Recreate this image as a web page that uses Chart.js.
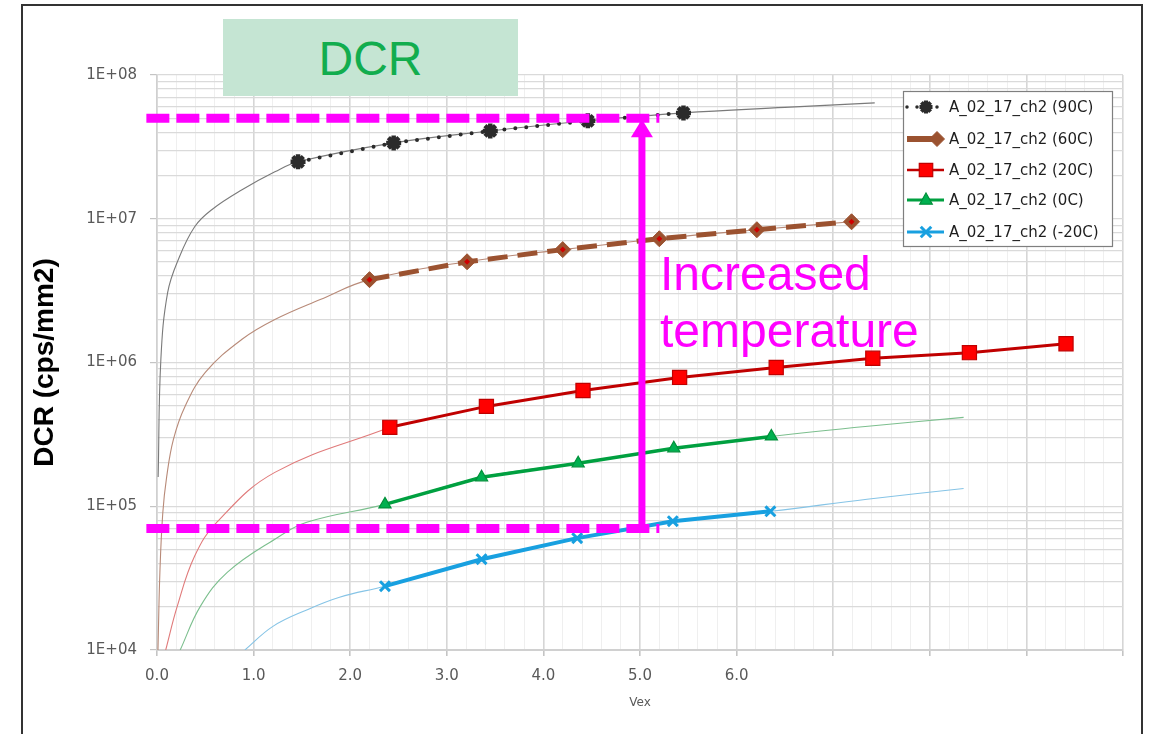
<!DOCTYPE html>
<html>
<head>
<meta charset="utf-8">
<script src="https://cdn.jsdelivr.net/npm/chart.js@4/dist/chart.umd.min.js"></script>
<style>
html,body{margin:0;padding:0;background:#fff;}
#wrap{position:relative;width:1151px;height:734px;overflow:hidden;background:#fff;}
#c{position:absolute;left:0;top:0;}
#frame{position:absolute;left:21px;top:4px;width:1122px;height:760px;border:2px solid #333;border-bottom:none;box-sizing:border-box;pointer-events:none;}
#dcr{position:absolute;left:223px;top:19px;width:295px;height:74px;padding-top:3px;background:#c5e5d3;color:#12ad4e;font:48px "Liberation Sans",Arial,sans-serif;text-align:center;line-height:74px;}
#inc{position:absolute;left:660px;top:245px;color:#ff00ff;font:48px "Liberation Sans",Arial,sans-serif;line-height:57px;white-space:nowrap;}
</style>
</head>
<body>
<div id="wrap">
<canvas id="c" width="1151" height="734"></canvas>
<div id="dcr">DCR</div>
<div id="inc">Increased<br>temperature</div>
<div id="frame"></div>
</div>
<script>
// ---------------- data ----------------
const seriesNames = ['A_02_17_ch2 (90C)','A_02_17_ch2 (60C)','A_02_17_ch2 (20C)','A_02_17_ch2 (0C)','A_02_17_ch2 (-20C)'];

const vex90  = [1.46, 2.45, 3.45, 4.46, 5.45];
const dcr90  = [2.49e7, 3.37e7, 4.08e7, 4.80e7, 5.45e7];

const vex60  = [2.20, 3.21, 4.20, 5.20, 6.21, 7.19];
const dcr60  = [3.77e6, 5.02e6, 6.10e6, 7.26e6, 8.39e6, 9.53e6];

const vex20  = [2.41, 3.41, 4.41, 5.41, 6.41, 7.41, 8.41, 9.41];
const dcr20  = [3.54e5, 4.95e5, 6.39e5, 7.87e5, 9.23e5, 1.07e6, 1.17e6, 1.35e6];

const vex0   = [2.36, 3.36, 4.36, 5.35, 6.36];
const dcr0   = [1.03e5, 1.59e5, 1.99e5, 2.53e5, 3.06e5];

const vexM20 = [2.36, 3.36, 4.35, 5.34, 6.35];
const dcrM20 = [2.78e4, 4.28e4, 6.00e4, 7.87e4, 9.22e4];

// thin fitted curves
const fitVex90  = [0.012, 0.04, 0.11, 0.22, 0.39, 0.57, 0.88, 1.22, 1.46, 2.45, 3.45, 4.46, 5.45, 6.50, 7.43];
const fitDcr90  = [1.6e5, 1.05e6, 3.06e6, 5.19e6, 8.8e6, 1.16e7, 1.59e7, 2.12e7, 2.49e7, 3.37e7, 4.08e7, 4.80e7, 5.45e7, 5.95e7, 6.4e7];
const fitVex60  = [0.01, 0.03, 0.06, 0.10, 0.17, 0.29, 0.50, 0.88, 1.22, 1.69, 2.20, 3.21, 4.20, 5.20, 6.21, 7.19];
const fitDcr60  = [1e4, 3.48e4, 9.0e4, 1.6e5, 2.92e5, 4.95e5, 8.53e5, 1.45e6, 1.99e6, 2.74e6, 3.77e6, 5.02e6, 6.10e6, 7.26e6, 8.39e6, 9.53e6];
const fitVex20  = [0.09, 0.21, 0.39, 0.62, 1.22, 2.41];
const fitDcr20  = [1e4, 2.02e4, 4.5e4, 7.74e4, 1.72e5, 3.54e5];
const fitVex0   = [0.24, 0.45, 0.73, 1.22, 1.55, 2.36, 3.36, 4.36, 5.35, 6.36, 7.36, 8.35];
const fitDcr0   = [1e4, 2.02e4, 3.48e4, 5.9e4, 7.74e4, 1.03e5, 1.59e5, 1.99e5, 2.53e5, 3.06e5, 3.6e5, 4.15e5];
const fitVexM20 = [0.91, 1.20, 1.55, 1.89, 2.36, 3.36, 4.35, 5.34, 6.35, 7.35, 8.35];
const fitDcrM20 = [1e4, 1.46e4, 1.90e4, 2.33e4, 2.78e4, 4.28e4, 6.00e4, 7.87e4, 9.22e4, 1.12e5, 1.33e5];

// axes
const xTickLabels = ['0.0','1.0','2.0','3.0','4.0','5.0','6.0'];
const yDecades    = [1e4, 1e5, 1e6, 1e7, 1e8];
const yTickLabels = ['1E+04','1E+05','1E+06','1E+07','1E+08'];

// annotation values (data units)
const refLevels = [5e7, 7e4];
const refStartVex = -0.11, refEndVex = 5.2, arrowVex = 5.02;

// ---------------- helpers ----------------
const pts = (xs, ys) => xs.map((x, i) => ({x: x, y: ys[i]}));
const isInt = v => Math.abs(v - Math.round(v)) < 1e-6;
const isDecade = v => { const l = Math.log10(v); return Math.abs(l - Math.round(l)) < 1e-9; };
const yGridValues = [];
for (let i = 0; i < yDecades.length - 1; i++) for (let m = 1; m <= 9; m++) yGridValues.push(m * yDecades[i]);
yGridValues.push(yDecades[yDecades.length - 1]);
const xGridValues = [];
for (let i = 0; i <= 50; i++) xGridValues.push(i / 5);

const C90 = '#2b2b2b', C60 = '#9b5230', C20 = '#c00000', C20f = '#ff0000', C0 = '#00a040', CM20 = '#18a0e0';
const MAG = '#ff00ff';

function trend(xs, ys, color) {
  return {data: pts(xs, ys), borderColor: color, borderWidth: 1.1, pointRadius: 0,
          tension: 0.4, cubicInterpolationMode: 'default', order: 20, fill: false};
}

// ---------------- legend / marker drawing ----------------
function marker(ctx, style, x, y, r, fill, stroke, lw) {
  ctx.save();
  ctx.fillStyle = fill; ctx.strokeStyle = stroke; ctx.lineWidth = lw; ctx.setLineDash([]);
  ctx.beginPath();
  if (style === 'rect') { const s = r * Math.SQRT1_2; ctx.rect(x - s, y - s, 2 * s, 2 * s); ctx.fill(); ctx.stroke(); }
  else if (style === 'rectRot') { ctx.moveTo(x, y - r); ctx.lineTo(x + r, y); ctx.lineTo(x, y + r); ctx.lineTo(x - r, y); ctx.closePath(); ctx.fill(); ctx.stroke(); }
  else if (style === 'triangle') { ctx.moveTo(x, y - r); ctx.lineTo(x + r * 0.9, y + r * 0.6); ctx.lineTo(x - r * 0.9, y + r * 0.6); ctx.closePath(); ctx.fill(); ctx.stroke(); }
  else if (style === 'crossRot') { const s = r * 0.75; ctx.moveTo(x - s, y - s); ctx.lineTo(x + s, y + s); ctx.moveTo(x + s, y - s); ctx.lineTo(x - s, y + s); ctx.stroke(); }
  else if (style === 'star') { for (let k = 0; k < 4; k++) { const a = k * Math.PI / 4; ctx.moveTo(x - r * Math.cos(a), y - r * Math.sin(a)); ctx.lineTo(x + r * Math.cos(a), y + r * Math.sin(a)); } ctx.stroke(); }
  ctx.restore();
}

const legendPlugin = {
  id: 'customLegend',
  afterDraw(chart) {
    const ctx = chart.ctx;
    const bx = 903, by = 91, bw = 209, bh = 155;
    ctx.save();
    ctx.fillStyle = '#fff'; ctx.fillRect(bx, by, bw, bh);
    ctx.strokeStyle = '#7f7f7f'; ctx.lineWidth = 1.2; ctx.strokeRect(bx + 0.5, by + 0.5, bw, bh);
    const rows = [107, 139, 170, 200, 232];
    const x0 = 907, x1 = 944, xm = 926;
    ctx.strokeStyle = C90; ctx.lineWidth = 3.5; ctx.lineCap = 'round'; ctx.setLineDash([0, 10]);
    ctx.beginPath(); ctx.moveTo(x0, rows[0]); ctx.lineTo(x1, rows[0]); ctx.stroke();
    ctx.setLineDash([]); ctx.lineCap = 'butt';
    marker(ctx, 'star', xm, rows[0], 6.5, C90, C90, 4);
    ctx.strokeStyle = C60; ctx.lineWidth = 6;
    ctx.beginPath(); ctx.moveTo(x0, rows[1]); ctx.lineTo(x1 - 8, rows[1]); ctx.stroke();
    marker(ctx, 'rectRot', x1 - 7, rows[1], 7.5, C60, C60, 1);
    ctx.strokeStyle = C20; ctx.lineWidth = 2.5;
    ctx.beginPath(); ctx.moveTo(x0, rows[2]); ctx.lineTo(x1, rows[2]); ctx.stroke();
    marker(ctx, 'rect', xm, rows[2], 9.5, C20f, C20, 1.2);
    ctx.strokeStyle = C0; ctx.lineWidth = 3;
    ctx.beginPath(); ctx.moveTo(x0, rows[3]); ctx.lineTo(x1, rows[3]); ctx.stroke();
    marker(ctx, 'triangle', xm, rows[3], 7, '#00b050', '#00903a', 1.2);
    ctx.strokeStyle = CM20; ctx.lineWidth = 3;
    ctx.beginPath(); ctx.moveTo(x0, rows[4]); ctx.lineTo(x1, rows[4]); ctx.stroke();
    marker(ctx, 'crossRot', xm, rows[4], 7, CM20, CM20, 3);
    ctx.fillStyle = '#1e1e1e'; ctx.font = '15px "DejaVu Sans"'; ctx.textBaseline = 'middle'; ctx.textAlign = 'left';
    seriesNames.forEach((n, i) => ctx.fillText(n, 949, rows[i] + 1));
    ctx.restore();
  }
};

const annotPlugin = {
  id: 'annot',
  afterDatasetsDraw(chart) {
    const {ctx, scales: {x, y}} = chart;
    ctx.save();
    ctx.strokeStyle = MAG; ctx.fillStyle = MAG;
    ctx.lineWidth = 9; ctx.setLineDash([23, 7]); ctx.lineCap = 'butt';
    const xa = x.getPixelForValue(refStartVex), xb = x.getPixelForValue(refEndVex);
    refLevels.forEach(v => {
      const py = y.getPixelForValue(v);
      ctx.beginPath(); ctx.moveTo(xa, py); ctx.lineTo(xb, py); ctx.stroke();
    });
    ctx.setLineDash([]);
    const ax = x.getPixelForValue(arrowVex);
    const yTop = y.getPixelForValue(refLevels[0]), yBot = y.getPixelForValue(refLevels[1]);
    ctx.lineWidth = 7;
    ctx.beginPath(); ctx.moveTo(ax, yBot + 4); ctx.lineTo(ax, yTop + 16); ctx.stroke();
    ctx.beginPath(); ctx.moveTo(ax, yTop + 1); ctx.lineTo(ax - 11, yTop + 19); ctx.lineTo(ax + 11, yTop + 19); ctx.closePath(); ctx.fill();
    ctx.restore();
  }
};

// ---------------- chart ----------------
const datasets = [
  {label: seriesNames[0], data: pts(vex90, dcr90), borderColor: C90, borderWidth: 4, borderDash: [0, 11], borderCapStyle: 'round',
   pointStyle: 'star', pointRadius: 7.5, pointBorderWidth: 4.5, pointBorderColor: C90, pointBackgroundColor: C90, order: 1},
  {label: seriesNames[1] + ' c', data: pts(vex60, dcr60), showLine: false, pointStyle: 'rectRot', pointRadius: 3,
   pointBackgroundColor: '#d00000', pointBorderColor: '#d00000', pointBorderWidth: 0, order: 1},
  {label: seriesNames[1], data: pts(vex60, dcr60), borderColor: C60, borderWidth: 5, borderDash: [20, 10],
   pointStyle: 'rectRot', pointRadius: 8, pointBackgroundColor: C60, pointBorderColor: C60, pointBorderWidth: 1, order: 2},
  {label: seriesNames[2], data: pts(vex20, dcr20), borderColor: C20, borderWidth: 3,
   pointStyle: 'rect', pointRadius: 10, pointBackgroundColor: C20f, pointBorderColor: C20, pointBorderWidth: 1.2, order: 3},
  {label: seriesNames[3], data: pts(vex0, dcr0), borderColor: C0, borderWidth: 3.5,
   pointStyle: 'triangle', pointRadius: 7, pointBackgroundColor: '#00b050', pointBorderColor: '#00903a', pointBorderWidth: 1.2, order: 4},
  {label: seriesNames[4], data: pts(vexM20, dcrM20), borderColor: CM20, borderWidth: 4,
   pointStyle: 'crossRot', pointRadius: 7, pointBorderColor: CM20, pointBackgroundColor: CM20, pointBorderWidth: 3, order: 5},
  trend(fitVex90, fitDcr90, '#7a7a7a'),
  trend(fitVex60, fitDcr60, '#b88a78'),
  trend(fitVex20, fitDcr20, '#e07a7a'),
  trend(fitVex0, fitDcr0, '#7cbf8e'),
  trend(fitVexM20, fitDcrM20, '#86c4e6')
];

new Chart(document.getElementById('c'), {
  type: 'line',
  data: {datasets: datasets},
  options: {
    responsive: false, animation: false, devicePixelRatio: 1,
    layout: {padding: {top: 75, right: 28, bottom: 20, left: 0}},
    elements: {line: {tension: 0}},
    plugins: {legend: {display: false}, tooltip: {enabled: false}},
    scales: {
      x: {
        type: 'linear', min: 0, max: 10,
        afterBuildTicks: s => { s.ticks = xGridValues.map(v => ({value: v})); },
        afterFit: s => { s.height = 64; },
        ticks: {autoSkip: false, maxRotation: 0, padding: 11, color: '#595959',
                font: {family: 'DejaVu Sans', size: 15},
                callback: v => (isInt(v) && Math.round(v) < xTickLabels.length) ? xTickLabels[Math.round(v)] : ''},
        grid: {
          color: c => (c.tick && isInt(c.tick.value)) ? '#d6d6d6' : '#efefef',
          lineWidth: c => (c.tick && isInt(c.tick.value)) ? 1.6 : 1,
          tickLength: 6,
          tickColor: c => (c.tick && isInt(c.tick.value)) ? '#c4c4c4' : 'rgba(0,0,0,0)'
        },
        border: {color: '#d0d0d0', width: 2},
        title: {display: true, text: 'Vex', color: '#595959', font: {family: 'DejaVu Sans', size: 12}, padding: {top: 0, bottom: 4}}
      },
      y: {
        type: 'logarithmic', min: 1e4, max: 1e8,
        afterBuildTicks: s => { s.ticks = yGridValues.map(v => ({value: v})); },
        afterFit: s => { s.width = 157; },
        ticks: {autoSkip: false, padding: 13, color: '#595959',
                font: {family: 'DejaVu Sans', size: 15},
                callback: v => { const i = yDecades.findIndex(d => Math.abs(d - v) / d < 1e-9); return i >= 0 ? yTickLabels[i] : ''; }},
        grid: {
          color: '#dadada', lineWidth: 1.2, tickLength: 7,
          tickColor: c => (c.tick && isDecade(c.tick.value)) ? '#c4c4c4' : 'rgba(0,0,0,0)'
        },
        border: {color: '#d0d0d0', width: 1.5},
        title: {display: true, text: 'DCR (cps/mm2)', color: '#000',
                font: {family: 'Liberation Sans', size: 28, weight: 'bold'}, padding: {top: 28, bottom: 0}}
      }
    }
  },
  plugins: [annotPlugin, legendPlugin]
});
</script>
</body>
</html>
